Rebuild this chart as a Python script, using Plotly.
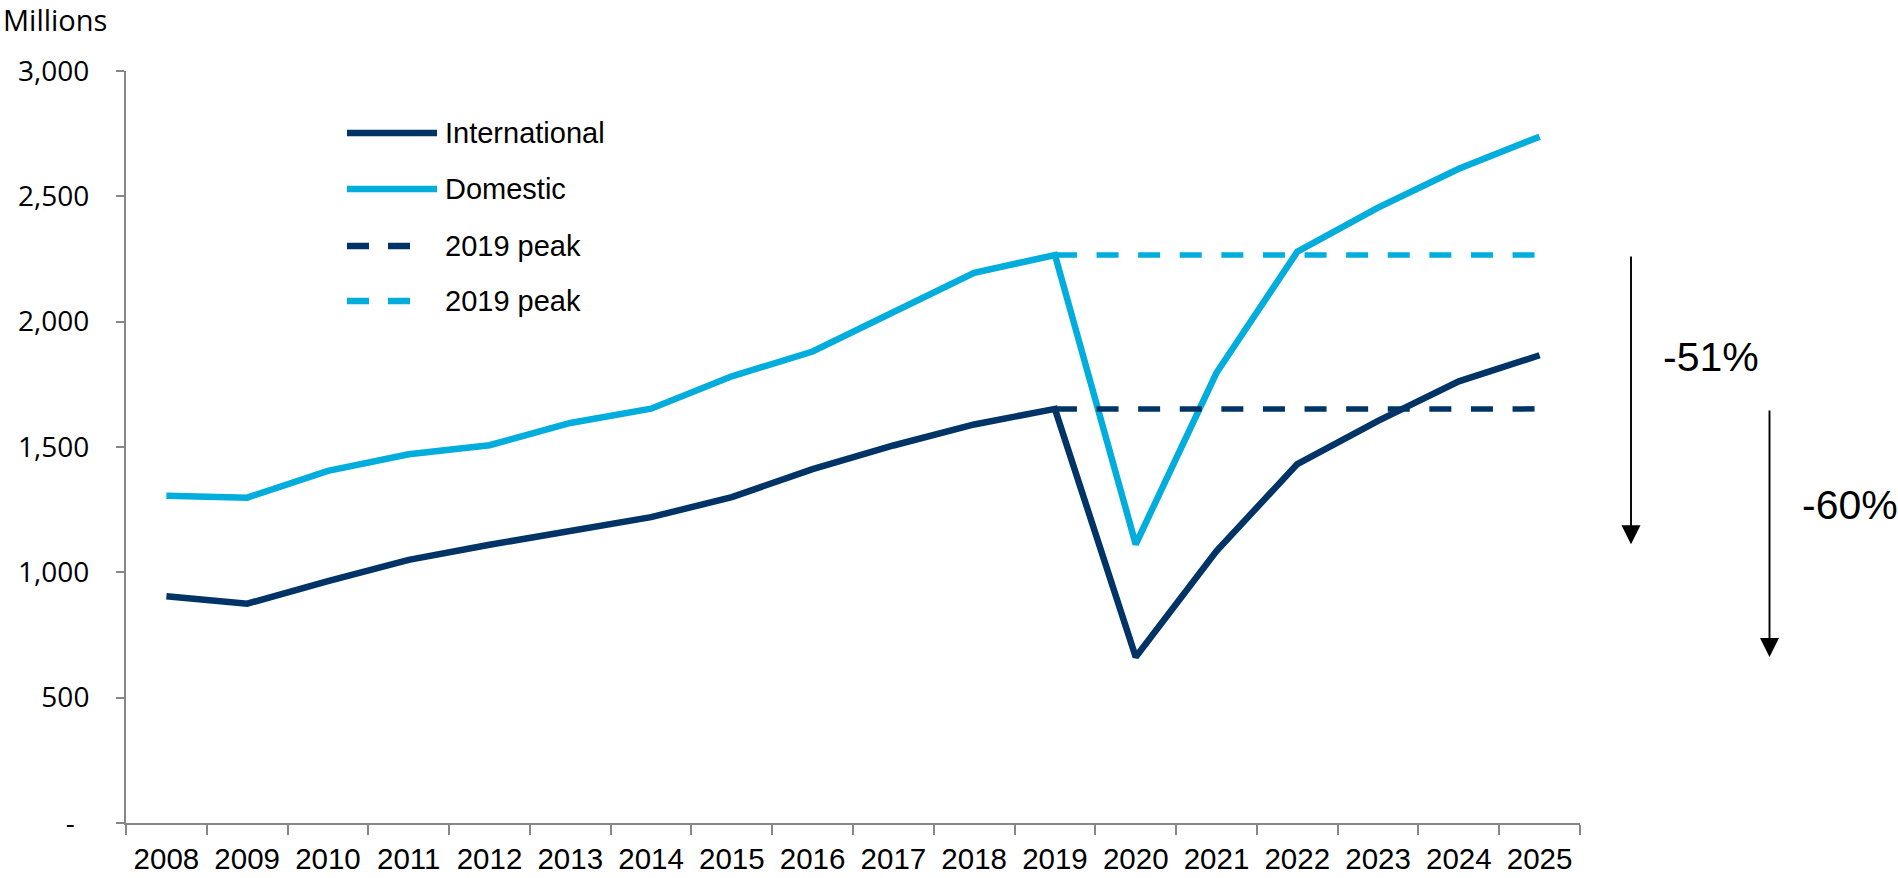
import plotly.graph_objects as go

# Passenger numbers, millions
years = [str(y) for y in range(2008, 2026)]
international = [905, 875, 965, 1050, 1110, 1168, 1220, 1300, 1412, 1506,
                 1590, 1652, 662, 1085, 1432, 1604, 1762, 1866]
domestic = [1306, 1298, 1405, 1471, 1507, 1596, 1653, 1782, 1881, 2040,
            2195, 2266, 1112, 1796, 2279, 2455, 2610, 2738]

peak_year = "2019"
series_names = ["International", "Domestic", "2019 peak", "2019 peak"]

y_tick_values = [0, 500, 1000, 1500, 2000, 2500, 3000]
y_tick_labels = ["-\u00a0\u00a0", "500", "1,000", "1,500", "2,000", "2,500", "3,000"]

NAVY = "#003466"
CYAN = "#00ADDC"
AXIS_GREY = "#878787"

W, H = 1898, 878
L, R, T, B = 126, 318, 71, 55
PLOT_W = W - L - R
PLOT_H = H - T - B


def px_x(x):
    return (x - L) / PLOT_W


def px_y(y):
    return (H - B - y) / PLOT_H


peak_idx = years.index(peak_year)
peak_years = years[peak_idx:]

fig = go.Figure()

fig.add_trace(go.Scatter(x=years, y=international, mode="lines", name=series_names[0],
                         line=dict(color=NAVY, width=6.5), showlegend=False))
fig.add_trace(go.Scatter(x=years, y=domestic, mode="lines", name=series_names[1],
                         line=dict(color=CYAN, width=6.5), showlegend=False))
fig.add_trace(go.Scatter(x=peak_years, y=[international[peak_idx]] * len(peak_years),
                         mode="lines", name=series_names[2],
                         line=dict(color=NAVY, width=5.5, dash="22px,19.6px"),
                         showlegend=False))
fig.add_trace(go.Scatter(x=peak_years, y=[domestic[peak_idx]] * len(peak_years),
                         mode="lines", name=series_names[3],
                         line=dict(color=CYAN, width=5.5, dash="22px,19.6px"),
                         showlegend=False))

# Hand-drawn style legend block inside the plot
legend_rows = [
    (series_names[0], NAVY, "solid", 133),
    (series_names[1], CYAN, "solid", 189),
    (series_names[2], NAVY, "22px,19px", 246),
    (series_names[3], CYAN, "22px,19px", 301),
]
shapes = []
annotations = []
for label, color, dash, ypx in legend_rows:
    x_end = 437 if dash == "solid" else 412
    shapes.append(dict(type="line", xref="paper", yref="paper",
                       x0=px_x(347), x1=px_x(x_end), y0=px_y(ypx), y1=px_y(ypx),
                       line=dict(color=color, width=6.5, dash=dash)))
    annotations.append(dict(xref="paper", yref="paper", x=px_x(443), y=px_y(ypx),
                            xanchor="left", yanchor="middle", text=label, showarrow=False,
                            font=dict(family="Liberation Sans, Arial", size=29, color="#000000")))

# Units label above the value axis
annotations.append(dict(xref="paper", yref="paper", x=px_x(1), y=px_y(19),
                        xanchor="left", yanchor="middle", text="Millions", showarrow=False,
                        font=dict(family="Open Sans, Liberation Sans", size=29, color="#000000")))

# Recovery year call-outs
big_font = dict(family="Liberation Sans, Arial", size=41, color="#000000")
i22 = years.index("2022")
i24 = years.index("2024")
annotations.append(dict(x="2022", y=domestic[i22], xref="x", yref="y", text="2022",
                        showarrow=False, xanchor="center", yanchor="middle",
                        xshift=-28, yshift=33, font=big_font))
annotations.append(dict(x="2024", y=international[i24], xref="x", yref="y", text="2024",
                        showarrow=False, xanchor="center", yanchor="middle",
                        xshift=-44, yshift=26, font=big_font))

# Peak-to-trough drop arrows
trough_idx = peak_idx + 1
drop_dom = round((domestic[trough_idx] / domestic[peak_idx] - 1) * 100)
drop_int = round((international[trough_idx] / international[peak_idx] - 1) * 100)
for xpx, top, bottom in [(1631, domestic[peak_idx], domestic[trough_idx]),
                         (1769.5, international[peak_idx], international[trough_idx])]:
    annotations.append(dict(xref="paper", yref="y", x=px_x(xpx), y=bottom,
                            axref="pixel", ayref="y", ax=0, ay=top, text="",
                            showarrow=True, arrowhead=2, arrowsize=2.0, arrowwidth=1.9,
                            arrowcolor="#000000", standoff=0))
annotations.append(dict(xref="paper", yref="paper", x=px_x(1661), y=px_y(357),
                        xanchor="left", yanchor="middle", text=f"{drop_dom}%",
                        showarrow=False, font=big_font))
annotations.append(dict(xref="paper", yref="paper", x=px_x(1800), y=px_y(505),
                        xanchor="left", yanchor="middle", text=f"{drop_int}%",
                        showarrow=False, font=big_font))

fig.update_layout(
    width=W, height=H,
    margin=dict(l=L, r=R, t=T, b=B, autoexpand=False),
    paper_bgcolor="#ffffff", plot_bgcolor="#ffffff",
    shapes=shapes, annotations=annotations,
    showlegend=False,
)
fig.update_xaxes(
    type="category", categoryorder="array", categoryarray=years,
    range=[-0.5, len(years) - 0.5],
    showline=True, linecolor=AXIS_GREY, linewidth=2,
    ticks="outside", tickson="boundaries", ticklen=10, tickwidth=1.5, tickcolor=AXIS_GREY,
    tickangle=0, ticklabelstandoff=9,
    showgrid=False, zeroline=False,
    tickfont=dict(family="Liberation Sans, Arial", size=29.5, color="#000000"),
    automargin=False,
)
fig.update_yaxes(
    range=[0, 3000],
    tickvals=y_tick_values, ticktext=y_tick_labels,
    showline=True, linecolor=AXIS_GREY, linewidth=2,
    ticks="outside", ticklen=8, tickwidth=1.5, tickcolor=AXIS_GREY,
    ticklabelstandoff=21,
    showgrid=False, zeroline=False,
    tickfont=dict(family="Open Sans, Liberation Sans", size=28, color="#000000"),
    automargin=False,
)

fig.write_html("out.html")
